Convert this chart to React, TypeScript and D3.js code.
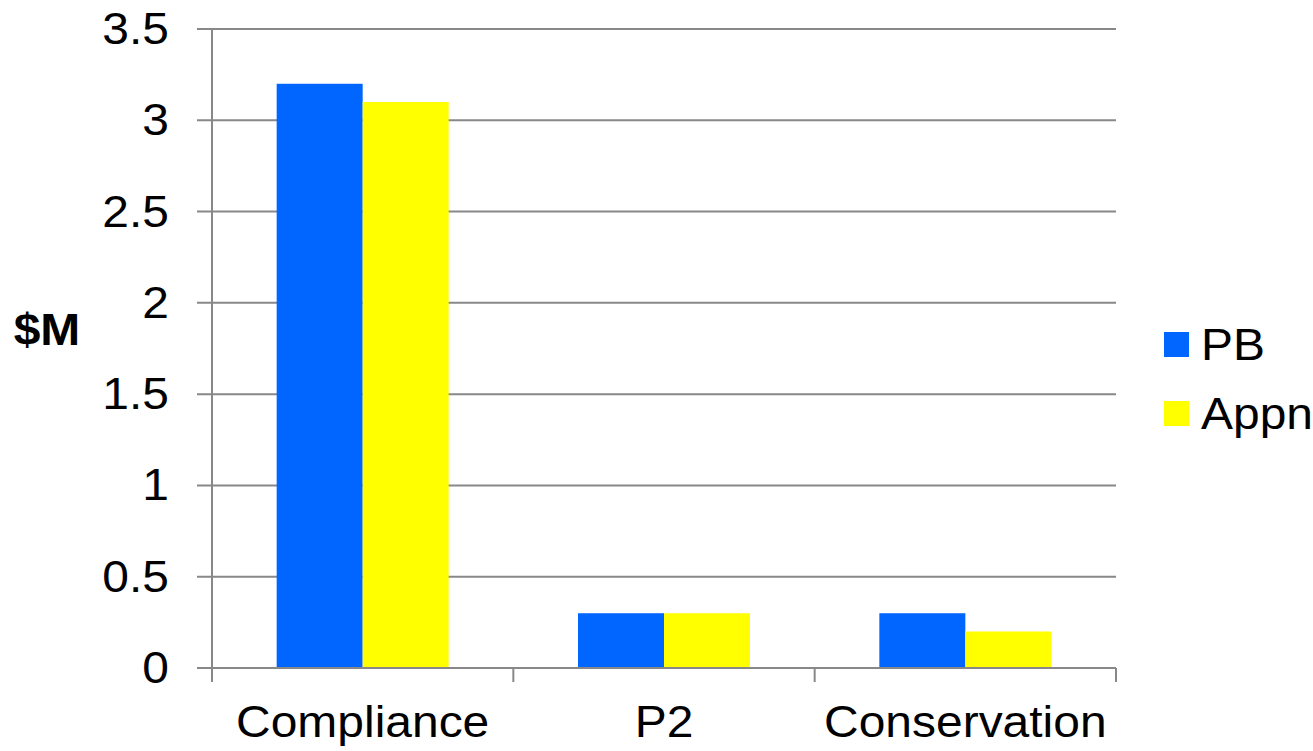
import React from "react";
import * as d3 from "d3";

const categories = ["Compliance", "P2", "Conservation"];
const seriesNames = ["PB", "Appn"];
const pbValues = [3.2, 0.3, 0.3];
const appnValues = [3.1, 0.3, 0.2];
const yTicks = [0, 0.5, 1, 1.5, 2, 2.5, 3, 3.5];
const colors = ["#0066FF", "#FFFF00"];

const W = 1313;
const H = 751;
const left = 212;
const right = 1116;
const top = 29;
const bottom = 668;
const FONT = "'Liberation Sans', Arial, sans-serif";
const FS = 44;
const SX = 1.09;

export default function App() {
  const x = d3.scaleBand<string>().domain(categories).range([left, right]).paddingInner(0).paddingOuter(0);
  const inner = d3.scaleBand<string>().domain(seriesNames).range([0, x.bandwidth()]).paddingInner(0).paddingOuter(0.752);
  const y = d3.scaleLinear().domain([0, 3.5]).range([bottom, top]);
  const series = [pbValues, appnValues];
  const grid = "#888888";
  const boundaries = [left, ...categories.map((c) => (x(c) as number) + x.bandwidth())];

  const txt = (tx: number, ty: number, s: string, anchor: string, extra: any = {}) => (
    <g transform={`translate(${tx},${ty}) scale(${SX},1)`}>
      <text x={0} y={0} textAnchor={anchor} fontFamily={FONT} fontSize={FS} fill="#000" {...extra}>
        {s}
      </text>
    </g>
  );

  return (
    <svg width={W} height={H} style={{ position: "absolute", left: 0, top: 0, background: "#fff" }}>
      {yTicks.map((t) => (
        <g key={t}>
          <line x1={left - 15} x2={right} y1={y(t)} y2={y(t)} stroke={grid} strokeWidth={2} />
          {txt(169, y(t) + 15, String(t), "end")}
        </g>
      ))}
      {categories.map((c, i) =>
        series.map((vals, j) => {
          const bx = (x(c) as number) + (inner(seriesNames[j]) as number);
          return (
            <rect
              key={c + j}
              x={bx}
              y={y(vals[i])}
              width={inner.bandwidth()}
              height={bottom - y(vals[i])}
              fill={colors[j]}
            />
          );
        })
      )}
      <line x1={left} x2={left} y1={top} y2={682} stroke={grid} strokeWidth={2} />
      <line x1={left - 15} x2={right} y1={bottom} y2={bottom} stroke={grid} strokeWidth={2} />
      {boundaries.map((b, i) => (
        <line key={i} x1={b} x2={b} y1={bottom} y2={682} stroke={grid} strokeWidth={2} />
      ))}
      {categories.map((c) => (
        <g key={c}>{txt((x(c) as number) + x.bandwidth() / 2, 737, c, "middle")}</g>
      ))}
      {txt(47, 345, "$M", "middle", { fontWeight: "bold" })}
      {seriesNames.map((s, j) => (
        <g key={s}>
          <rect x={1164} y={332 + j * 69} width={25} height={25} fill={colors[j]} />
          {txt(1201, 360 + j * 69, s, "start")}
        </g>
      ))}
    </svg>
  );
}
